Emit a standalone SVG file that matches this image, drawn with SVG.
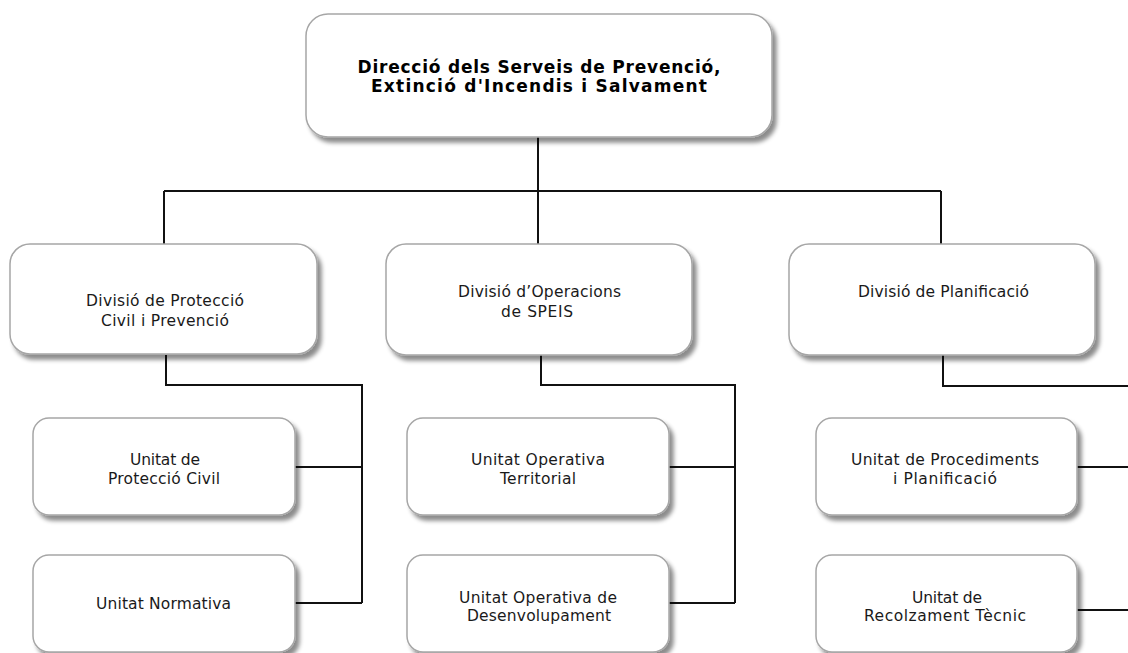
<svg xmlns="http://www.w3.org/2000/svg" width="1128" height="653" viewBox="0 0 1128 653">
<defs>
<filter id="sh" x="-10%" y="-10%" width="130%" height="140%">
<feDropShadow dx="4" dy="5" stdDeviation="2.2" flood-color="#000" flood-opacity="0.45"/>
</filter>
<style>
.box{fill:#fff;stroke:#a6a6a6;stroke-width:1.5;filter:url(#sh)}
.t{font-family:"DejaVu Sans",Verdana,sans-serif;font-size:15.5px;fill:#1a1a1a;text-anchor:middle}
.tb{font-family:"DejaVu Sans",Verdana,sans-serif;font-size:17px;font-weight:bold;fill:#000;text-anchor:middle}
.c{fill:none;stroke:#111;stroke-width:2}
</style>
</defs>
<rect width="1128" height="653" fill="#fff"/>
<g id="connectors">
<path class="c" d="M538,137 V244 M164,191 H941 M164,191 V244 M941,191 V244"/>
<path class="c" d="M166,355 V385 H362 V603 M295,467 H362 M295,603 H362"/>
<path class="c" d="M541,355 V385 H735 V603 M669,467 H735 M669,603 H735"/>
<path class="c" d="M943,355 V386 H1128 M1077,467 H1128 M1077,610 H1128"/>
</g>
<g id="direccio">
<rect class="box" x="306" y="14" width="466" height="123" rx="22"/>
<text class="tb" x="539" y="73" textLength="363" lengthAdjust="spacing">Direcció dels Serveis de Prevenció,</text>
<text class="tb" x="539" y="92" textLength="336" lengthAdjust="spacing">Extinció d'Incendis i Salvament</text>
</g>
<g id="div-proteccio">
<rect class="box" x="10" y="244" width="307" height="110" rx="20"/>
<text class="t" x="165" y="306" textLength="158" lengthAdjust="spacing">Divisió de Protecció</text>
<text class="t" x="165" y="326" textLength="128" lengthAdjust="spacing">Civil i Prevenció</text>
</g>
<g id="div-operacions">
<rect class="box" x="386" y="244" width="306" height="111" rx="20"/>
<text class="t" x="539.5" y="297" textLength="163" lengthAdjust="spacing">Divisió d’Operacions</text>
<text class="t" x="537" y="317" textLength="72" lengthAdjust="spacing">de SPEIS</text>
</g>
<g id="div-planificacio">
<rect class="box" x="789" y="244" width="306" height="111" rx="20"/>
<text class="t" x="943.5" y="297" textLength="171" lengthAdjust="spacing">Divisió de Planificació</text>
</g>
<g id="u-proteccio-civil">
<rect class="box" x="33" y="418" width="262" height="97" rx="16"/>
<text class="t" x="165" y="465" textLength="70" lengthAdjust="spacing">Unitat de</text>
<text class="t" x="164" y="484" textLength="112" lengthAdjust="spacing">Protecció Civil</text>
</g>
<g id="u-normativa">
<rect class="box" x="33" y="555" width="262" height="97" rx="16"/>
<text class="t" x="163.5" y="609" textLength="135" lengthAdjust="spacing">Unitat Normativa</text>
</g>
<g id="u-territorial">
<rect class="box" x="407" y="418" width="262" height="97" rx="16"/>
<text class="t" x="538" y="465" textLength="134" lengthAdjust="spacing">Unitat Operativa</text>
<text class="t" x="538" y="484" textLength="76" lengthAdjust="spacing">Territorial</text>
</g>
<g id="u-desenvolupament">
<rect class="box" x="407" y="555" width="262" height="97" rx="16"/>
<text class="t" x="538" y="603" textLength="158" lengthAdjust="spacing">Unitat Operativa de</text>
<text class="t" x="539" y="621" textLength="144" lengthAdjust="spacing">Desenvolupament</text>
</g>
<g id="u-procediments">
<rect class="box" x="816" y="418" width="261" height="97" rx="16"/>
<text class="t" x="945" y="465" textLength="188" lengthAdjust="spacing">Unitat de Procediments</text>
<text class="t" x="945" y="484" textLength="104" lengthAdjust="spacing">i Planificació</text>
</g>
<g id="u-recolzament">
<rect class="box" x="816" y="555" width="261" height="97" rx="16"/>
<text class="t" x="947" y="603" textLength="70" lengthAdjust="spacing">Unitat de</text>
<text class="t" x="945" y="621" textLength="162" lengthAdjust="spacing">Recolzament Tècnic</text>
</g>
</svg>
